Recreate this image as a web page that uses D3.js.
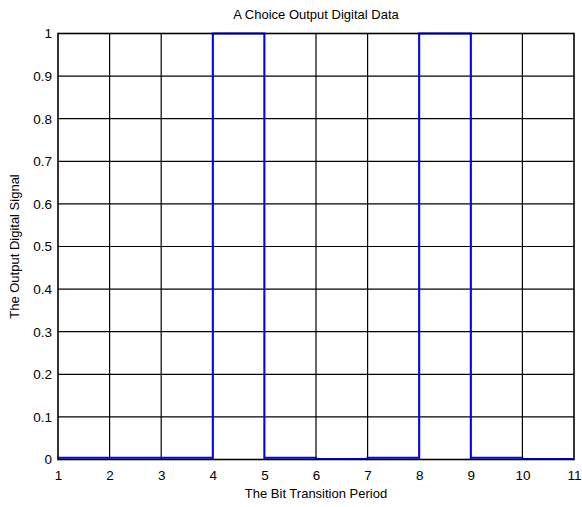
<!DOCTYPE html>
<html>
<head>
<meta charset="utf-8">
<script src="https://cdn.jsdelivr.net/npm/d3@7"></script>
<style>
  html, body { margin: 0; padding: 0; background: #fff; }
  svg { display: block; font-family: "Liberation Sans", Arial, sans-serif; }
</style>
</head>
<body>
<svg id="chart" width="582" height="507"></svg>
<script>
// Bit period boundaries and the output level held over each period
const periods = [1, 2, 3, 4, 5, 6, 7, 8, 9, 10, 11];
const levels  = [0.004, 0.004, 0.004, 1, 0.004, 0.001, 0.004, 1, 0.004, 0.001, 0.001];

const xTicks = [1, 2, 3, 4, 5, 6, 7, 8, 9, 10, 11];
const yTicks = [0, 0.1, 0.2, 0.3, 0.4, 0.5, 0.6, 0.7, 0.8, 0.9, 1];

const titleText = "A Choice Output Digital Data";
const xLabelText = "The Bit Transition Period";
const yLabelText = "The Output Digital Signal";

const margin = { left: 58, top: 33.5, right: 8, bottom: 47.5 };
const W = 582, H = 507;
const iw = W - margin.left - margin.right;
const ih = H - margin.top - margin.bottom;

const svg = d3.select("#chart");
const g = svg.append("g").attr("transform", `translate(${margin.left},${margin.top})`);

const x = d3.scaleLinear().domain([1, 11]).range([0, iw]);
const y = d3.scaleLinear().domain([0, 1]).range([ih, 0]);

// grid lines
g.append("g")
  .selectAll("line")
  .data(xTicks.slice(1, -1))
  .join("line")
  .attr("x1", d => x(d)).attr("x2", d => x(d))
  .attr("y1", 0).attr("y2", ih)
  .attr("stroke", "#000").attr("stroke-width", 1.2);

g.append("g")
  .selectAll("line")
  .data(yTicks.slice(1, -1))
  .join("line")
  .attr("x1", 0).attr("x2", iw)
  .attr("y1", d => y(d)).attr("y2", d => y(d))
  .attr("stroke", "#000").attr("stroke-width", 1.2);

// axes (labels only, ticks hidden under the grid)
const xAxis = d3.axisBottom(x).tickValues(xTicks).tickSize(0).tickPadding(11).tickFormat(d3.format("d"));
const yAxis = d3.axisLeft(y).tickValues(yTicks).tickSize(0).tickPadding(6).tickFormat(d => d === 0 || d === 1 ? String(d) : d3.format(".1f")(d));

const gx = g.append("g").attr("transform", `translate(0,${ih})`).call(xAxis);
const gy = g.append("g").call(yAxis);
[gx, gy].forEach(a => {
  a.select(".domain").remove();
  a.selectAll("text").attr("fill", "#000").style("font-size", "13.5px")
    .style("font-family", "'Liberation Sans', Arial, sans-serif");
});

// step signal
const line = d3.line()
  .x((d, i) => x(periods[i]))
  .y(d => y(d))
  .curve(d3.curveStepAfter);

g.append("path")
  .datum(levels)
  .attr("d", line)
  .attr("fill", "none")
  .attr("stroke", "#0000ff")
  .attr("stroke-width", 2);

// axes box
g.append("rect")
  .attr("x", 0).attr("y", 0).attr("width", iw).attr("height", ih)
  .attr("fill", "none").attr("stroke", "#000").attr("stroke-width", 1.6);

// title and axis labels
svg.append("text")
  .attr("x", margin.left + iw / 2).attr("y", 19)
  .attr("text-anchor", "middle").style("font-size", "13px")
  .text(titleText);

svg.append("text")
  .attr("x", margin.left + iw / 2).attr("y", 498)
  .attr("text-anchor", "middle").style("font-size", "13px")
  .text(xLabelText);

svg.append("text")
  .attr("transform", `translate(19,${margin.top + ih / 2}) rotate(-90)`)
  .attr("text-anchor", "middle").style("font-size", "13px")
  .text(yLabelText);
</script>
</body>
</html>
